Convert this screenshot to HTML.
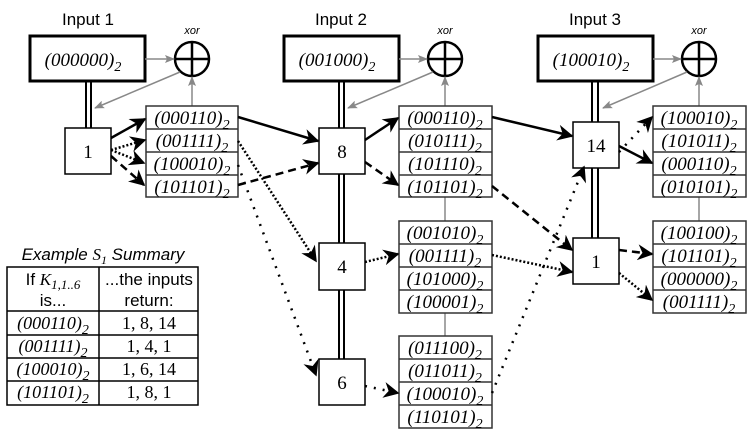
<!DOCTYPE html>
<html><head><meta charset="utf-8"><style>
body{margin:0;background:#fff}
svg text{font-family:"Liberation Serif",serif}
svg .s, svg .s text{font-family:"Liberation Sans",sans-serif}
.v{font-style:italic;font-size:19px}
</style></head><body>
<svg width="748" height="433" viewBox="0 0 748 433" xmlns="http://www.w3.org/2000/svg">
<defs>
<marker id="A" viewBox="0 0 10 10" refX="9" refY="5" markerWidth="16" markerHeight="16" orient="auto" markerUnits="userSpaceOnUse"><path d="M0,0 L10,5 L0,10 L3,5z" fill="#000"/></marker>
<marker id="g" viewBox="0 0 10 10" refX="9" refY="5" markerWidth="10" markerHeight="10" orient="auto" markerUnits="userSpaceOnUse"><path d="M0,1 L10,5 L0,9 L2,5z" fill="#888"/></marker>
</defs>
<g class="s" font-size="17" text-anchor="middle">
<text x="88" y="25">Input 1</text><text x="341" y="25">Input 2</text><text x="595" y="25">Input 3</text>
<text x="192" y="34" font-size="11" font-style="italic">xor</text><text x="445" y="34" font-size="11" font-style="italic">xor</text><text x="699" y="34" font-size="11" font-style="italic">xor</text>
</g>
<g fill="#fff" stroke="#000" stroke-width="3">
<rect x="30" y="36" width="115" height="45"/><rect x="284" y="36" width="115" height="45"/><rect x="538" y="36" width="115" height="45"/>
</g>
<g class="v" text-anchor="middle">
<text x="83" y="66">(000000)<tspan font-size="14" dy="5">2</tspan></text>
<text x="337" y="66">(001000)<tspan font-size="14" dy="5">2</tspan></text>
<text x="591" y="66">(100010)<tspan font-size="14" dy="5">2</tspan></text>
</g>
<g stroke="#000" stroke-width="2">
<line x1="86" y1="81" x2="86" y2="128"/><line x1="91" y1="81" x2="91" y2="128"/>
<line x1="339" y1="81" x2="339" y2="359"/><line x1="344" y1="81" x2="344" y2="359"/>
<line x1="592" y1="81" x2="592" y2="238"/><line x1="598" y1="81" x2="598" y2="238"/>
</g>
<g fill="#fff" stroke="#000" stroke-width="2.5">
<circle cx="192" cy="59" r="17"/><circle cx="445" cy="59" r="17"/><circle cx="699" cy="59" r="17"/>
</g>
<g stroke="#000" stroke-width="2.5">
<path d="M175,59H209M192,42V76"/><path d="M428,59H462M445,42V76"/><path d="M682,59H716M699,42V76"/>
</g>
<g stroke="#888" stroke-width="1.5" fill="none">
<line x1="145" y1="59" x2="174" y2="59" marker-end="url(#g)"/>
<line x1="399" y1="59" x2="427" y2="59" marker-end="url(#g)"/>
<line x1="653" y1="59" x2="681" y2="59" marker-end="url(#g)"/>
<line x1="192" y1="106" x2="192" y2="77" marker-end="url(#g)"/>
<line x1="445" y1="106" x2="445" y2="77" marker-end="url(#g)"/>
<line x1="699" y1="106" x2="699" y2="77" marker-end="url(#g)"/>
<line x1="180" y1="72" x2="95" y2="108" marker-end="url(#g)"/>
<line x1="433" y1="72" x2="348" y2="108" marker-end="url(#g)"/>
<line x1="687" y1="72" x2="603" y2="108" marker-end="url(#g)"/>
<line x1="445" y1="197" x2="445" y2="221"/><line x1="445" y1="313" x2="445" y2="336"/>
<line x1="699" y1="197" x2="699" y2="221"/>
</g>
<g fill="#fff" stroke="#000" stroke-width="1.5">
<rect x="65" y="128" width="46" height="46"/><rect x="319" y="128" width="46" height="46"/>
<rect x="319" y="243" width="46" height="47"/><rect x="319" y="359" width="46" height="46"/>
<rect x="573" y="122" width="46" height="46"/><rect x="573" y="238" width="46" height="46"/>
</g>
<g font-size="19" text-anchor="middle">
<text x="88" y="158">1</text><text x="342" y="158">8</text><text x="342" y="273">4</text><text x="342" y="389">6</text><text x="596" y="152">14</text><text x="596" y="268">1</text>
</g>
<g fill="#fff" stroke="#333" stroke-width="1.5">
<rect x="146" y="106" width="92" height="91"/><path d="M146,129H238M146,152H238M146,175H238"/>
<rect x="399" y="106" width="93" height="91"/><path d="M399,129H492M399,152H492M399,175H492"/>
<rect x="399" y="221" width="93" height="92"/><path d="M399,244H492M399,267H492M399,290H492"/>
<rect x="399" y="336" width="93" height="92"/><path d="M399,359H492M399,382H492M399,405H492"/>
<rect x="653" y="106" width="93" height="91"/><path d="M653,129H746M653,152H746M653,175H746"/>
<rect x="653" y="221" width="93" height="92"/><path d="M653,244H746M653,267H746M653,290H746"/>
</g>
<g class="v" text-anchor="middle" font-size="19">
<text x="192" y="124">(000110)<tspan font-size="14" dy="5">2</tspan></text>
<text x="192" y="147">(001111)<tspan font-size="14" dy="5">2</tspan></text>
<text x="192" y="170">(100010)<tspan font-size="14" dy="5">2</tspan></text>
<text x="192" y="193">(101101)<tspan font-size="14" dy="5">2</tspan></text>
<text x="445" y="124">(000110)<tspan font-size="14" dy="5">2</tspan></text>
<text x="445" y="147">(010111)<tspan font-size="14" dy="5">2</tspan></text>
<text x="445" y="170">(101110)<tspan font-size="14" dy="5">2</tspan></text>
<text x="445" y="193">(101101)<tspan font-size="14" dy="5">2</tspan></text>
<text x="445" y="239">(001010)<tspan font-size="14" dy="5">2</tspan></text>
<text x="445" y="262">(001111)<tspan font-size="14" dy="5">2</tspan></text>
<text x="445" y="285">(101000)<tspan font-size="14" dy="5">2</tspan></text>
<text x="445" y="308">(100001)<tspan font-size="14" dy="5">2</tspan></text>
<text x="445" y="354">(011100)<tspan font-size="14" dy="5">2</tspan></text>
<text x="445" y="377">(011011)<tspan font-size="14" dy="5">2</tspan></text>
<text x="445" y="400">(100010)<tspan font-size="14" dy="5">2</tspan></text>
<text x="445" y="423">(110101)<tspan font-size="14" dy="5">2</tspan></text>
<text x="699" y="124">(100010)<tspan font-size="14" dy="5">2</tspan></text>
<text x="699" y="147">(101011)<tspan font-size="14" dy="5">2</tspan></text>
<text x="699" y="170">(000110)<tspan font-size="14" dy="5">2</tspan></text>
<text x="699" y="193">(010101)<tspan font-size="14" dy="5">2</tspan></text>
<text x="699" y="239">(100100)<tspan font-size="14" dy="5">2</tspan></text>
<text x="699" y="262">(101101)<tspan font-size="14" dy="5">2</tspan></text>
<text x="699" y="285">(000000)<tspan font-size="14" dy="5">2</tspan></text>
<text x="699" y="308">(001111)<tspan font-size="14" dy="5">2</tspan></text>
</g>
<g stroke="#000" stroke-width="2.5" fill="none">
<g marker-end="url(#A)">
<line x1="111" y1="138" x2="145" y2="119"/>
<line x1="238" y1="117" x2="318" y2="141"/>
<line x1="365" y1="140" x2="398" y2="118"/>
<line x1="492" y1="117" x2="572" y2="136"/>
<line x1="619" y1="146" x2="652" y2="163"/>
</g>
<g marker-end="url(#A)" stroke-dasharray="2,2">
<line x1="111" y1="150" x2="145" y2="140"/>
<line x1="111" y1="150" x2="144" y2="163"/>
<line x1="238" y1="141" x2="316" y2="261"/>
<line x1="365" y1="262" x2="398" y2="254"/>
<line x1="492" y1="255" x2="572" y2="272"/>
<line x1="619" y1="273" x2="652" y2="300"/>
</g>
<g marker-end="url(#A)" stroke-dasharray="2,7">
<line x1="238" y1="165" x2="316" y2="375"/>
<line x1="365" y1="386" x2="398" y2="393"/>
<line x1="492" y1="393" x2="584" y2="167"/>
<line x1="619" y1="152" x2="652" y2="117"/>
</g>
<g marker-end="url(#A)" stroke-dasharray="8,5">
<line x1="111" y1="156" x2="144" y2="185"/>
<line x1="238" y1="185" x2="318" y2="163"/>
<line x1="365" y1="162" x2="398" y2="185"/>
<line x1="492" y1="186" x2="572" y2="250"/>
<line x1="619" y1="250" x2="652" y2="254"/>
</g>
</g>
<text x="103" y="260" font-size="17" font-style="italic" text-anchor="middle" style="font-family:'Liberation Sans',sans-serif">Example <tspan style="font-family:'Liberation Serif',serif">S<tspan font-size="12" dy="4">1</tspan></tspan><tspan dy="-4"> Summary</tspan></text>
<g fill="none" stroke="#000" stroke-width="1.5">
<rect x="7" y="267" width="191" height="138"/>
<path d="M99,267V405M7,311H198M7,335H198M7,358H198M7,381H198"/>
</g>
<g text-anchor="middle" font-size="17">
<text x="53" y="285" style="font-family:'Liberation Sans',sans-serif">If <tspan style="font-family:'Liberation Serif',serif" font-style="italic">K<tspan font-size="13" dy="4">1,1..6</tspan></tspan></text>
<text x="53" y="306" style="font-family:'Liberation Sans',sans-serif">is...</text>
<text x="149" y="285" style="font-family:'Liberation Sans',sans-serif">...the inputs</text>
<text x="149" y="306" style="font-family:'Liberation Sans',sans-serif">return:</text>
<g font-style="italic" font-size="18">
<text x="53" y="329">(000110)<tspan font-size="14" dy="5">2</tspan></text>
<text x="53" y="352">(001111)<tspan font-size="14" dy="5">2</tspan></text>
<text x="53" y="375">(100010)<tspan font-size="14" dy="5">2</tspan></text>
<text x="53" y="398">(101101)<tspan font-size="14" dy="5">2</tspan></text>
</g>
<g font-size="18">
<text x="149" y="329">1, 8, 14</text><text x="149" y="352">1, 4, 1</text><text x="149" y="375">1, 6, 14</text><text x="149" y="398">1, 8, 1</text>
</g>
</g>
</svg>
</body></html>
